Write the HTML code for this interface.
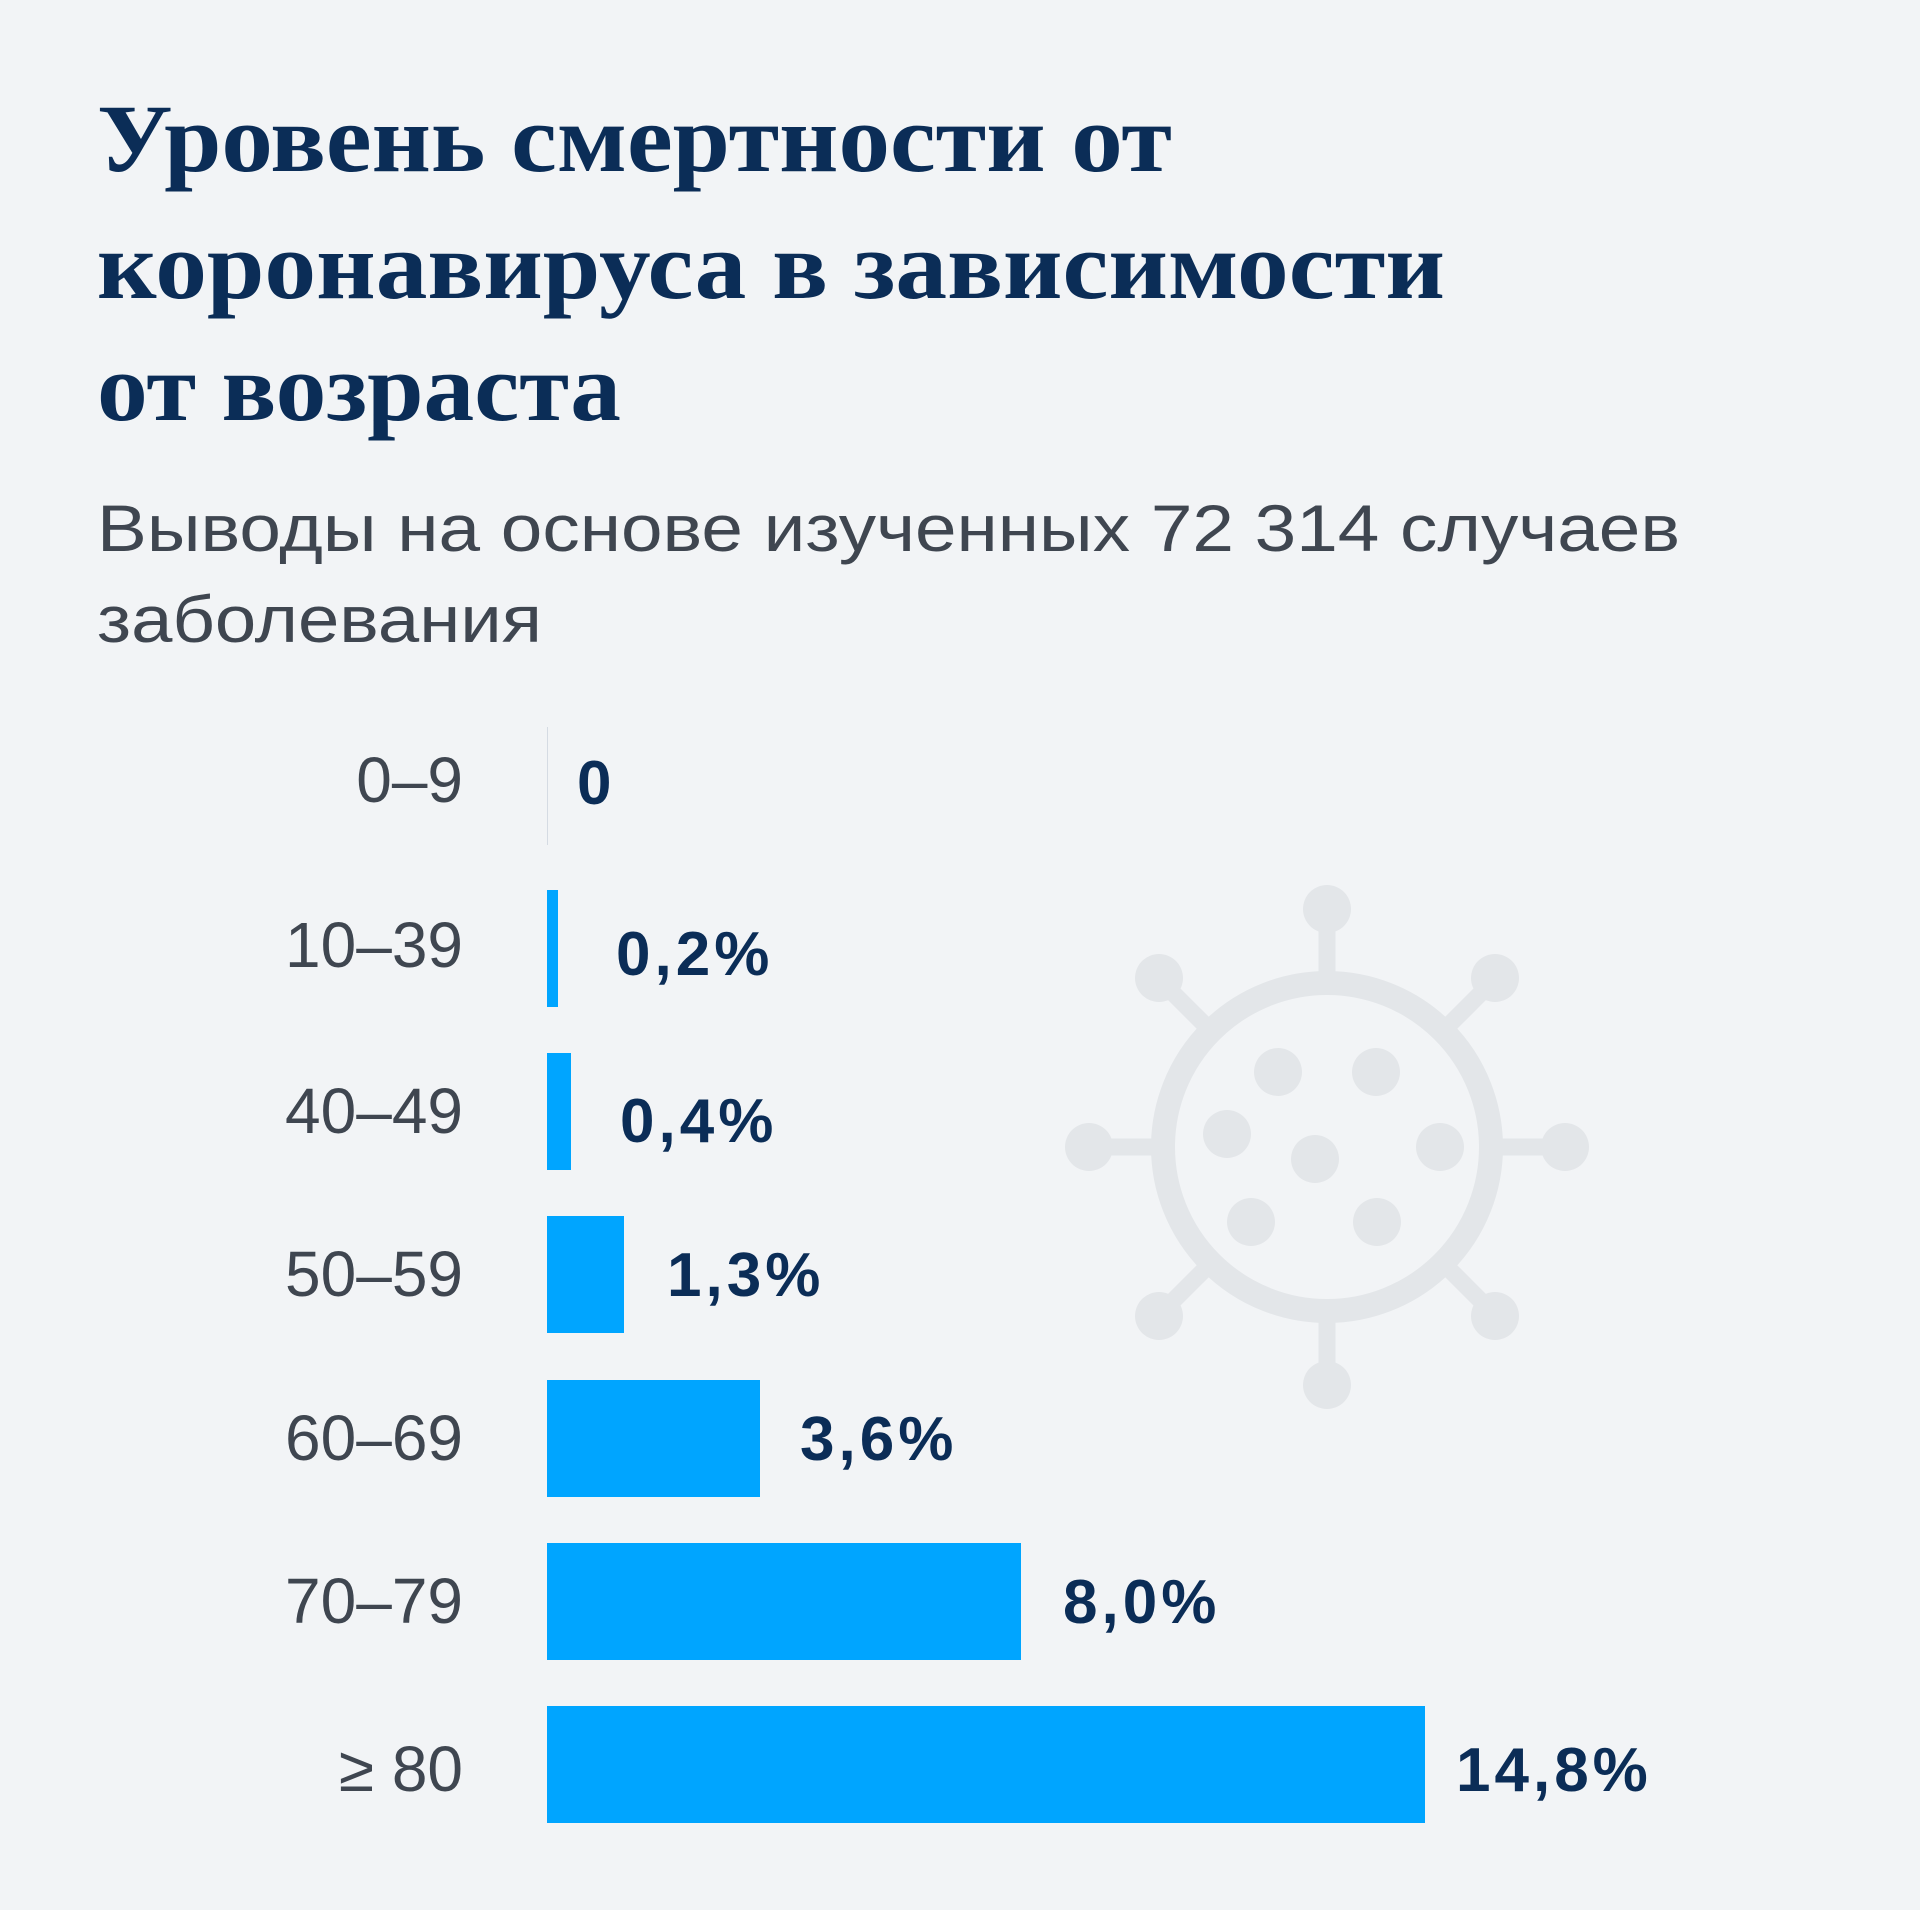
<!DOCTYPE html>
<html><head><meta charset="utf-8"><style>html,body{margin:0;padding:0;background:#f2f4f6}svg{display:block}</style></head><body>
<svg width="1920" height="1910" viewBox="0 0 1920 1910" xmlns="http://www.w3.org/2000/svg">
<rect width="1920" height="1910" fill="#f2f4f6"/>
<g font-family="'Liberation Serif', serif" font-weight="bold" font-size="96" fill="#0b2d57">
<text x="97" y="171" textLength="1075" lengthAdjust="spacingAndGlyphs">Уровень смертности от</text>
<text x="97" y="298" textLength="1348" lengthAdjust="spacingAndGlyphs">коронавируса в зависимости</text>
<text x="97" y="420" textLength="524" lengthAdjust="spacingAndGlyphs">от возраста</text>
</g>
<g font-family="'Liberation Sans', sans-serif" font-size="66" fill="#3f4650">
<text x="97" y="551" textLength="1583" lengthAdjust="spacingAndGlyphs">Выводы на основе изученных 72 314 случаев</text>
<text x="97" y="642" textLength="445" lengthAdjust="spacingAndGlyphs">заболевания</text>
</g>
<g fill="#e3e6e9" stroke="#e3e6e9">
<circle cx="1327" cy="1147" r="164" fill="none" stroke-width="24"/>
<g stroke-width="17">
<line x1="1327" y1="983" x2="1327" y2="911"/><line x1="1327" y1="1311" x2="1327" y2="1383"/>
<line x1="1163" y1="1147" x2="1091" y2="1147"/><line x1="1491" y1="1147" x2="1563" y2="1147"/>
<line x1="1211" y1="1031" x2="1160" y2="980"/><line x1="1443" y1="1031" x2="1494" y2="980"/>
<line x1="1211" y1="1263" x2="1160" y2="1314"/><line x1="1443" y1="1263" x2="1494" y2="1314"/>
</g>
<g stroke="none">
<circle cx="1327" cy="909" r="24"/><circle cx="1327" cy="1385" r="24"/>
<circle cx="1089" cy="1147" r="24"/><circle cx="1565" cy="1147" r="24"/>
<circle cx="1159" cy="978" r="24"/><circle cx="1495" cy="978" r="24"/>
<circle cx="1159" cy="1316" r="24"/><circle cx="1495" cy="1316" r="24"/>
<circle cx="1278" cy="1072" r="24"/><circle cx="1376" cy="1072" r="24"/>
<circle cx="1227" cy="1134" r="24"/><circle cx="1315" cy="1159" r="24"/>
<circle cx="1440" cy="1147" r="24"/><circle cx="1251" cy="1222" r="24"/>
<circle cx="1377" cy="1222" r="24"/>
</g>
</g>
<line x1="547.5" y1="727" x2="547.5" y2="845" stroke="#d5dbe3" stroke-width="1"/>
<g fill="#00a5ff">
<rect x="547" y="890" width="11" height="117"/>
<rect x="547" y="1053" width="24" height="117"/>
<rect x="547" y="1216" width="77" height="117"/>
<rect x="547" y="1380" width="213" height="117"/>
<rect x="547" y="1543" width="474" height="117"/>
<rect x="547" y="1706" width="878" height="117"/>
</g>
<g font-family="'Liberation Sans', sans-serif" font-size="64" fill="#3f4650" text-anchor="end">
<text x="463" y="802">0–9</text>
<text x="463" y="967">10–39</text>
<text x="463" y="1133">40–49</text>
<text x="463" y="1296">50–59</text>
<text x="463" y="1460">60–69</text>
<text x="463" y="1623">70–79</text>
<text x="463" y="1791">≥ 80</text>
</g>
<g font-family="'Liberation Sans', sans-serif" font-weight="bold" font-size="62" fill="#0b2d57" letter-spacing="4">
<text x="577" y="804">0</text>
<text x="616" y="975">0,2%</text>
<text x="620" y="1142">0,4%</text>
<text x="667" y="1296">1,3%</text>
<text x="800" y="1460">3,6%</text>
<text x="1063" y="1623">8,0%</text>
<text x="1456" y="1791">14,8%</text>
</g>
</svg>
</body></html>
